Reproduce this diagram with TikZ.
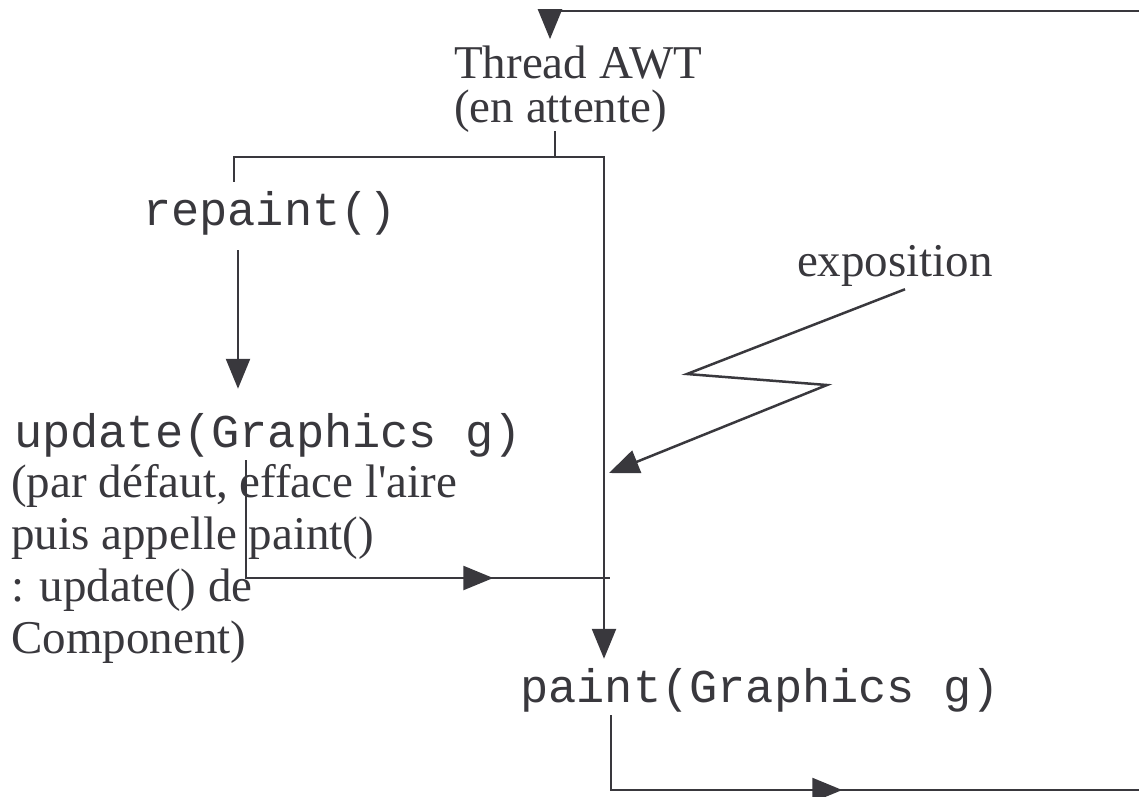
\documentclass[tikz,border=0pt]{standalone}
\usepackage{fontspec}
\setmainfont{Liberation Serif}[Ligatures=TeXOff]
\setmonofont{Liberation Mono}
\usetikzlibrary{arrows.meta,decorations.markings}

\definecolor{ink}{HTML}{39383D}
\tikzset{
  code/.style={font=\ttfamily\fontsize{47}{50}\selectfont, inner sep=12pt,
    text height=30pt, text depth=0pt},
  prose/.style={font=\fontsize{47}{52}\selectfont, inner sep=2pt},
  tri/.style={-{Triangle[length=30pt,width=24pt]}},
  midtri/.style={postaction={decorate}, decoration={markings,
      mark=at position #1 with {\arrow{Triangle[length=30pt,width=24pt]}}}},
}

\begin{document}
\begin{tikzpicture}[x=1pt, y=-1pt, line width=2.5pt, color=ink]
  \useasboundingbox (0,0) rectangle (1139,796);

  \node[prose, align=left, anchor=base west, font=\fontsize{47}{44}\selectfont,
    inner sep=5pt] (thread) at (448,122) {Thread AWT\\(en attente)};
  \node[code, anchor=base] (repaint) at (270,225) {repaint()};
  \node[code, anchor=base] (update) at (268,447) {update(Graphics g)};
  \node[prose, align=left, anchor=base west] (note) at (8,653)
    {(par défaut, efface l'aire\\puis appelle paint()\\: update() de\\Component)};
  \node[prose, anchor=base] (expo) at (895,276) {exposition};
  \node[code, anchor=base] (paint) at (760,702) {paint(Graphics g)};

  \coordinate (fork) at (555,157);
  \coordinate (join) at (610,578);
  \coordinate (back) at (550,11);

  % AWT thread dispatches to repaint() or paint()
  \draw[shorten <=-7pt] (fork |- thread.south) -- (fork);
  \draw (fork) -| ([xshift=-36pt]repaint.north);
  \draw[tri] (fork) -| ([xshift=-156pt]paint.north);
  \draw[tri, shorten <=12pt, shorten >=15pt] ([xshift=-32pt]repaint.south)
    -- ([xshift=-32pt]repaint.south |- update.north);
  \draw[midtri=365pt] ([xshift=-22pt]update.south) |- (join);

  % exposition event
  \draw[tri] ([xshift=10pt]expo.south) -- (687,374) -- (827,385) -- (609,473);

  % back to waiting
  \draw[tri, midtri=306pt] ([xshift=-149pt]paint.south) |- (1160,790)
    |- (back) -- (back |- thread.north);
\end{tikzpicture}
\end{document}
